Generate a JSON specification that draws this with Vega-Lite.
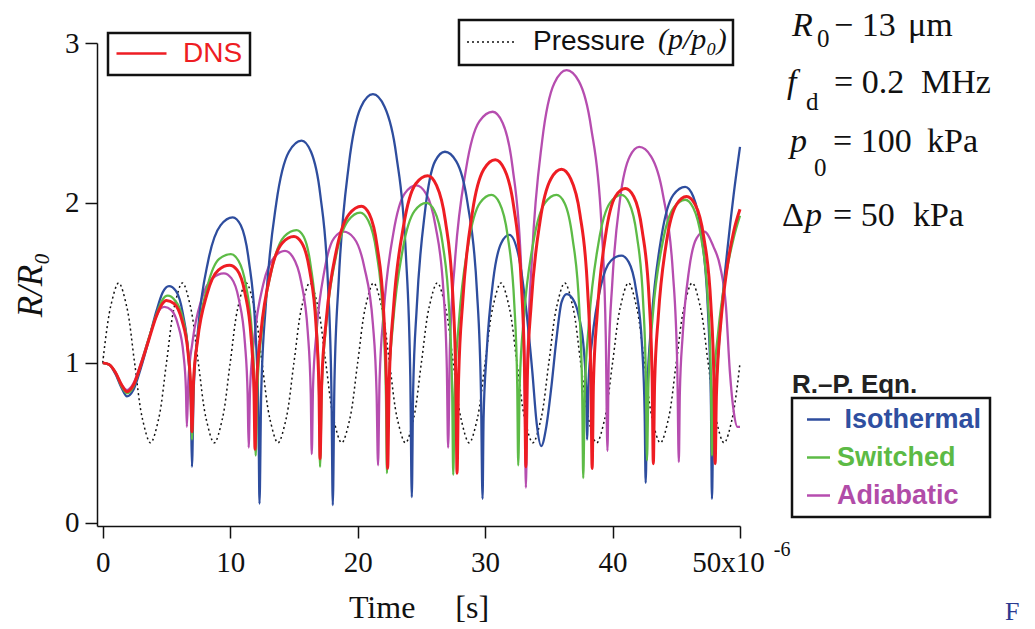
{
  "$schema": "https://vega.github.io/schema/vega-lite/v6.json",
  "width": 643,
  "height": 483,
  "autosize": {"type": "none"},
  "padding": {"left": 97, "top": 43, "right": 295, "bottom": 103},
  "background": "white",
  "config": {"view": {"stroke": null}},
  "datasets": {
    "curves": [
      {"t":0,"r":1,"s":"Pressure"},{"t":0.625,"r":1.354,"s":"Pressure"},{"t":1.25,"r":1.5,"s":"Pressure"},{"t":1.875,"r":1.354,"s":"Pressure"},{"t":2.5,"r":1,"s":"Pressure"},{"t":3.125,"r":0.646,"s":"Pressure"},{"t":3.75,"r":0.5,"s":"Pressure"},{"t":4.375,"r":0.646,"s":"Pressure"},
      {"t":5,"r":1,"s":"Pressure"},{"t":5.625,"r":1.354,"s":"Pressure"},{"t":6.25,"r":1.5,"s":"Pressure"},{"t":6.875,"r":1.354,"s":"Pressure"},{"t":7.5,"r":1,"s":"Pressure"},{"t":8.125,"r":0.646,"s":"Pressure"},{"t":8.75,"r":0.5,"s":"Pressure"},{"t":9.375,"r":0.646,"s":"Pressure"},
      {"t":10,"r":1,"s":"Pressure"},{"t":10.625,"r":1.354,"s":"Pressure"},{"t":11.25,"r":1.5,"s":"Pressure"},{"t":11.875,"r":1.354,"s":"Pressure"},{"t":12.5,"r":1,"s":"Pressure"},{"t":13.125,"r":0.646,"s":"Pressure"},{"t":13.75,"r":0.5,"s":"Pressure"},{"t":14.375,"r":0.646,"s":"Pressure"},
      {"t":15,"r":1,"s":"Pressure"},{"t":15.625,"r":1.354,"s":"Pressure"},{"t":16.25,"r":1.5,"s":"Pressure"},{"t":16.875,"r":1.354,"s":"Pressure"},{"t":17.5,"r":1,"s":"Pressure"},{"t":18.125,"r":0.646,"s":"Pressure"},{"t":18.75,"r":0.5,"s":"Pressure"},{"t":19.375,"r":0.646,"s":"Pressure"},
      {"t":20,"r":1,"s":"Pressure"},{"t":20.625,"r":1.354,"s":"Pressure"},{"t":21.25,"r":1.5,"s":"Pressure"},{"t":21.875,"r":1.354,"s":"Pressure"},{"t":22.5,"r":1,"s":"Pressure"},{"t":23.125,"r":0.646,"s":"Pressure"},{"t":23.75,"r":0.5,"s":"Pressure"},{"t":24.375,"r":0.646,"s":"Pressure"},
      {"t":25,"r":1,"s":"Pressure"},{"t":25.625,"r":1.354,"s":"Pressure"},{"t":26.25,"r":1.5,"s":"Pressure"},{"t":26.875,"r":1.354,"s":"Pressure"},{"t":27.5,"r":1,"s":"Pressure"},{"t":28.125,"r":0.646,"s":"Pressure"},{"t":28.75,"r":0.5,"s":"Pressure"},{"t":29.375,"r":0.646,"s":"Pressure"},
      {"t":30,"r":1,"s":"Pressure"},{"t":30.625,"r":1.354,"s":"Pressure"},{"t":31.25,"r":1.5,"s":"Pressure"},{"t":31.875,"r":1.354,"s":"Pressure"},{"t":32.5,"r":1,"s":"Pressure"},{"t":33.125,"r":0.646,"s":"Pressure"},{"t":33.75,"r":0.5,"s":"Pressure"},{"t":34.375,"r":0.646,"s":"Pressure"},
      {"t":35,"r":1,"s":"Pressure"},{"t":35.625,"r":1.354,"s":"Pressure"},{"t":36.25,"r":1.5,"s":"Pressure"},{"t":36.875,"r":1.354,"s":"Pressure"},{"t":37.5,"r":1,"s":"Pressure"},{"t":38.125,"r":0.646,"s":"Pressure"},{"t":38.75,"r":0.5,"s":"Pressure"},{"t":39.375,"r":0.646,"s":"Pressure"},
      {"t":40,"r":1,"s":"Pressure"},{"t":40.625,"r":1.354,"s":"Pressure"},{"t":41.25,"r":1.5,"s":"Pressure"},{"t":41.875,"r":1.354,"s":"Pressure"},{"t":42.5,"r":1,"s":"Pressure"},{"t":43.125,"r":0.646,"s":"Pressure"},{"t":43.75,"r":0.5,"s":"Pressure"},{"t":44.375,"r":0.646,"s":"Pressure"},
      {"t":45,"r":1,"s":"Pressure"},{"t":45.625,"r":1.354,"s":"Pressure"},{"t":46.25,"r":1.5,"s":"Pressure"},{"t":46.875,"r":1.354,"s":"Pressure"},{"t":47.5,"r":1,"s":"Pressure"},{"t":48.125,"r":0.646,"s":"Pressure"},{"t":48.75,"r":0.5,"s":"Pressure"},{"t":49.375,"r":0.646,"s":"Pressure"},
      {"t":50,"r":1,"s":"Pressure"},

      {"t":0,"r":1.0,"s":"Adiabatic"},{"t":0.5,"r":0.99,"s":"Adiabatic"},{"t":1.0,"r":0.94,"s":"Adiabatic"},{"t":1.5,"r":0.86,"s":"Adiabatic"},{"t":1.9,"r":0.83,"s":"Adiabatic"},{"t":2.4,"r":0.87,"s":"Adiabatic"},{"t":3.0,"r":1.0,"s":"Adiabatic"},{"t":3.6,"r":1.15,"s":"Adiabatic"},{"t":4.2,"r":1.29,"s":"Adiabatic"},{"t":4.55,"r":1.34,"s":"Adiabatic"},{"t":4.85,"r":1.35,"s":"Adiabatic"},{"t":5.38,"r":1.33,"s":"Adiabatic"},{"t":5.9,"r":1.24,"s":"Adiabatic"},{"t":6.34,"r":1.05,"s":"Adiabatic"},{"t":6.53,"r":0.83,"s":"Adiabatic"},{"t":6.6,"r":0.6,"s":"Adiabatic"},
      {"t":6.72,"r":0.89,"s":"Adiabatic"},{"t":7.04,"r":1.13,"s":"Adiabatic"},{"t":7.76,"r":1.4,"s":"Adiabatic"},{"t":8.63,"r":1.53,"s":"Adiabatic"},{"t":9.5,"r":1.56,"s":"Adiabatic"},{"t":10.09,"r":1.53,"s":"Adiabatic"},{"t":10.67,"r":1.4,"s":"Adiabatic"},{"t":11.16,"r":1.12,"s":"Adiabatic"},{"t":11.37,"r":0.8,"s":"Adiabatic"},{"t":11.45,"r":0.47,"s":"Adiabatic"},
      {"t":11.56,"r":0.84,"s":"Adiabatic"},{"t":11.88,"r":1.15,"s":"Adiabatic"},{"t":12.59,"r":1.49,"s":"Adiabatic"},{"t":13.45,"r":1.66,"s":"Adiabatic"},{"t":14.3,"r":1.7,"s":"Adiabatic"},{"t":14.93,"r":1.66,"s":"Adiabatic"},{"t":15.56,"r":1.51,"s":"Adiabatic"},{"t":16.09,"r":1.19,"s":"Adiabatic"},{"t":16.32,"r":0.81,"s":"Adiabatic"},{"t":16.4,"r":0.43,"s":"Adiabatic"},
      {"t":16.5,"r":0.85,"s":"Adiabatic"},{"t":16.78,"r":1.2,"s":"Adiabatic"},{"t":17.4,"r":1.58,"s":"Adiabatic"},{"t":18.15,"r":1.78,"s":"Adiabatic"},{"t":18.9,"r":1.82,"s":"Adiabatic"},{"t":19.71,"r":1.78,"s":"Adiabatic"},{"t":20.52,"r":1.6,"s":"Adiabatic"},{"t":21.2,"r":1.24,"s":"Adiabatic"},{"t":21.49,"r":0.8,"s":"Adiabatic"},{"t":21.6,"r":0.36,"s":"Adiabatic"},
      {"t":21.72,"r":0.89,"s":"Adiabatic"},{"t":22.05,"r":1.32,"s":"Adiabatic"},{"t":22.8,"r":1.81,"s":"Adiabatic"},{"t":23.7,"r":2.06,"s":"Adiabatic"},{"t":24.6,"r":2.11,"s":"Adiabatic"},{"t":25.35,"r":2.06,"s":"Adiabatic"},{"t":26.1,"r":1.86,"s":"Adiabatic"},{"t":26.73,"r":1.45,"s":"Adiabatic"},{"t":27.0,"r":0.96,"s":"Adiabatic"},{"t":27.1,"r":0.47,"s":"Adiabatic"},
      {"t":27.24,"r":1.1,"s":"Adiabatic"},{"t":27.63,"r":1.63,"s":"Adiabatic"},{"t":28.5,"r":2.21,"s":"Adiabatic"},{"t":29.55,"r":2.51,"s":"Adiabatic"},{"t":30.6,"r":2.57,"s":"Adiabatic"},{"t":31.38,"r":2.5,"s":"Adiabatic"},{"t":32.16,"r":2.22,"s":"Adiabatic"},{"t":32.81,"r":1.63,"s":"Adiabatic"},{"t":33.1,"r":0.93,"s":"Adiabatic"},{"t":33.2,"r":0.22,"s":"Adiabatic"},
      {"t":33.33,"r":1.0,"s":"Adiabatic"},{"t":33.68,"r":1.66,"s":"Adiabatic"},{"t":34.48,"r":2.39,"s":"Adiabatic"},{"t":35.44,"r":2.75,"s":"Adiabatic"},{"t":36.4,"r":2.83,"s":"Adiabatic"},{"t":37.36,"r":2.76,"s":"Adiabatic"},{"t":38.32,"r":2.47,"s":"Adiabatic"},{"t":39.12,"r":1.88,"s":"Adiabatic"},{"t":39.47,"r":1.16,"s":"Adiabatic"},{"t":39.6,"r":0.45,"s":"Adiabatic"},
      {"t":39.7,"r":1.02,"s":"Adiabatic"},{"t":39.98,"r":1.5,"s":"Adiabatic"},{"t":40.6,"r":2.03,"s":"Adiabatic"},{"t":41.35,"r":2.29,"s":"Adiabatic"},{"t":42.1,"r":2.35,"s":"Adiabatic"},{"t":43.03,"r":2.29,"s":"Adiabatic"},{"t":43.96,"r":2.05,"s":"Adiabatic"},{"t":44.74,"r":1.56,"s":"Adiabatic"},{"t":45.08,"r":0.97,"s":"Adiabatic"},{"t":45.2,"r":0.38,"s":"Adiabatic"},
      {"t":45.28,"r":0.81,"s":"Adiabatic"},{"t":45.5,"r":1.17,"s":"Adiabatic"},{"t":46.0,"r":1.58,"s":"Adiabatic"},{"t":46.6,"r":1.78,"s":"Adiabatic"},{"t":47.2,"r":1.82,"s":"Adiabatic"},{"t":47.9,"r":1.73,"s":"Adiabatic"},{"t":48.45,"r":1.6,"s":"Adiabatic"},{"t":48.9,"r":1.35,"s":"Adiabatic"},{"t":49.2,"r":0.95,"s":"Adiabatic"},{"t":49.5,"r":0.7,"s":"Adiabatic"},{"t":49.8,"r":0.6,"s":"Adiabatic"},{"t":50,"r":0.6,"s":"Adiabatic"},

      {"t":0,"r":1.0,"s":"Isothermal"},{"t":0.5,"r":0.99,"s":"Isothermal"},{"t":1.0,"r":0.93,"s":"Isothermal"},{"t":1.5,"r":0.84,"s":"Isothermal"},{"t":1.9,"r":0.79,"s":"Isothermal"},{"t":2.4,"r":0.83,"s":"Isothermal"},{"t":3.0,"r":0.97,"s":"Isothermal"},{"t":3.6,"r":1.14,"s":"Isothermal"},{"t":4.2,"r":1.32,"s":"Isothermal"},{"t":4.7,"r":1.44,"s":"Isothermal"},{"t":5.2,"r":1.48,"s":"Isothermal"},{"t":5.74,"r":1.45,"s":"Isothermal"},{"t":6.28,"r":1.31,"s":"Isothermal"},{"t":6.73,"r":1.03,"s":"Isothermal"},{"t":6.93,"r":0.69,"s":"Isothermal"},{"t":7.0,"r":0.35,"s":"Isothermal"},
      {"t":7.13,"r":0.82,"s":"Isothermal"},{"t":7.48,"r":1.21,"s":"Isothermal"},{"t":8.28,"r":1.64,"s":"Isothermal"},{"t":9.24,"r":1.86,"s":"Isothermal"},{"t":10.2,"r":1.91,"s":"Isothermal"},{"t":10.83,"r":1.86,"s":"Isothermal"},{"t":11.46,"r":1.64,"s":"Isothermal"},{"t":11.99,"r":1.19,"s":"Isothermal"},{"t":12.22,"r":0.66,"s":"Isothermal"},{"t":12.3,"r":0.12,"s":"Isothermal"},
      {"t":12.43,"r":0.8,"s":"Isothermal"},{"t":12.8,"r":1.37,"s":"Isothermal"},{"t":13.62,"r":2.0,"s":"Isothermal"},{"t":14.61,"r":2.32,"s":"Isothermal"},{"t":15.6,"r":2.39,"s":"Isothermal"},{"t":16.34,"r":2.32,"s":"Isothermal"},{"t":17.07,"r":2.05,"s":"Isothermal"},{"t":17.68,"r":1.48,"s":"Isothermal"},{"t":17.95,"r":0.79,"s":"Isothermal"},{"t":18.05,"r":0.11,"s":"Isothermal"},
      {"t":18.18,"r":0.88,"s":"Isothermal"},{"t":18.52,"r":1.52,"s":"Isothermal"},{"t":19.31,"r":2.24,"s":"Isothermal"},{"t":20.26,"r":2.6,"s":"Isothermal"},{"t":21.2,"r":2.68,"s":"Isothermal"},{"t":22.12,"r":2.6,"s":"Isothermal"},{"t":23.03,"r":2.3,"s":"Isothermal"},{"t":23.79,"r":1.67,"s":"Isothermal"},{"t":24.13,"r":0.92,"s":"Isothermal"},{"t":24.25,"r":0.16,"s":"Isothermal"},
      {"t":24.35,"r":0.81,"s":"Isothermal"},{"t":24.64,"r":1.35,"s":"Isothermal"},{"t":25.29,"r":1.95,"s":"Isothermal"},{"t":26.07,"r":2.26,"s":"Isothermal"},{"t":26.85,"r":2.32,"s":"Isothermal"},{"t":27.74,"r":2.26,"s":"Isothermal"},{"t":28.62,"r":2.0,"s":"Isothermal"},{"t":29.36,"r":1.45,"s":"Isothermal"},{"t":29.68,"r":0.8,"s":"Isothermal"},{"t":29.8,"r":0.15,"s":"Isothermal"},
      {"t":29.88,"r":0.65,"s":"Isothermal"},{"t":30.12,"r":1.06,"s":"Isothermal"},{"t":30.64,"r":1.52,"s":"Isothermal"},{"t":31.27,"r":1.75,"s":"Isothermal"},{"t":31.9,"r":1.8,"s":"Isothermal"},{"t":32.6,"r":1.68,"s":"Isothermal"},{"t":33.2,"r":1.35,"s":"Isothermal"},{"t":33.7,"r":0.95,"s":"Isothermal"},{"t":34.05,"r":0.62,"s":"Isothermal"},{"t":34.4,"r":0.48,"s":"Isothermal"},
      {"t":34.8,"r":0.6,"s":"Isothermal"},{"t":35.2,"r":0.85,"s":"Isothermal"},{"t":35.6,"r":1.15,"s":"Isothermal"},{"t":36.0,"r":1.38,"s":"Isothermal"},{"t":36.4,"r":1.43,"s":"Isothermal"},{"t":36.88,"r":1.4,"s":"Isothermal"},{"t":37.36,"r":1.29,"s":"Isothermal"},{"t":37.76,"r":1.07,"s":"Isothermal"},{"t":37.94,"r":0.79,"s":"Isothermal"},{"t":38.0,"r":0.52,"s":"Isothermal"},
      {"t":38.11,"r":0.87,"s":"Isothermal"},{"t":38.41,"r":1.15,"s":"Isothermal"},{"t":39.08,"r":1.48,"s":"Isothermal"},{"t":39.89,"r":1.64,"s":"Isothermal"},{"t":40.7,"r":1.67,"s":"Isothermal"},{"t":41.27,"r":1.63,"s":"Isothermal"},{"t":41.84,"r":1.46,"s":"Isothermal"},{"t":42.32,"r":1.1,"s":"Isothermal"},{"t":42.52,"r":0.68,"s":"Isothermal"},{"t":42.6,"r":0.25,"s":"Isothermal"},
      {"t":42.72,"r":0.81,"s":"Isothermal"},{"t":43.07,"r":1.27,"s":"Isothermal"},{"t":43.84,"r":1.79,"s":"Isothermal"},{"t":44.77,"r":2.05,"s":"Isothermal"},{"t":45.7,"r":2.1,"s":"Isothermal"},{"t":46.33,"r":2.04,"s":"Isothermal"},{"t":46.96,"r":1.81,"s":"Isothermal"},{"t":47.49,"r":1.32,"s":"Isothermal"},{"t":47.72,"r":0.74,"s":"Isothermal"},{"t":47.8,"r":0.15,"s":"Isothermal"},
      {"t":47.9,"r":0.6,"s":"Isothermal"},{"t":48.2,"r":0.95,"s":"Isothermal"},{"t":48.55,"r":1.33,"s":"Isothermal"},{"t":49.0,"r":1.7,"s":"Isothermal"},{"t":49.5,"r":2.05,"s":"Isothermal"},{"t":50,"r":2.35,"s":"Isothermal"},

      {"t":0,"r":1.0,"s":"Switched"},{"t":0.5,"r":0.99,"s":"Switched"},{"t":1.0,"r":0.94,"s":"Switched"},{"t":1.5,"r":0.85,"s":"Switched"},{"t":1.9,"r":0.81,"s":"Switched"},{"t":2.4,"r":0.85,"s":"Switched"},{"t":3.0,"r":0.99,"s":"Switched"},{"t":3.6,"r":1.15,"s":"Switched"},{"t":4.2,"r":1.3,"s":"Switched"},{"t":4.65,"r":1.39,"s":"Switched"},{"t":5.1,"r":1.42,"s":"Switched"},{"t":5.67,"r":1.39,"s":"Switched"},{"t":6.24,"r":1.29,"s":"Switched"},{"t":6.72,"r":1.06,"s":"Switched"},{"t":6.92,"r":0.79,"s":"Switched"},{"t":7.0,"r":0.52,"s":"Switched"},
      {"t":7.12,"r":0.87,"s":"Switched"},{"t":7.46,"r":1.16,"s":"Switched"},{"t":8.22,"r":1.48,"s":"Switched"},{"t":9.14,"r":1.65,"s":"Switched"},{"t":10.05,"r":1.68,"s":"Switched"},{"t":10.64,"r":1.64,"s":"Switched"},{"t":11.22,"r":1.49,"s":"Switched"},{"t":11.71,"r":1.18,"s":"Switched"},{"t":11.92,"r":0.8,"s":"Switched"},{"t":12.0,"r":0.42,"s":"Switched"},
      {"t":12.13,"r":0.84,"s":"Switched"},{"t":12.48,"r":1.2,"s":"Switched"},{"t":13.28,"r":1.59,"s":"Switched"},{"t":14.24,"r":1.79,"s":"Switched"},{"t":15.2,"r":1.83,"s":"Switched"},{"t":15.76,"r":1.79,"s":"Switched"},{"t":16.31,"r":1.61,"s":"Switched"},{"t":16.77,"r":1.24,"s":"Switched"},{"t":16.98,"r":0.79,"s":"Switched"},{"t":17.05,"r":0.35,"s":"Switched"},
      {"t":17.18,"r":0.83,"s":"Switched"},{"t":17.52,"r":1.23,"s":"Switched"},{"t":18.31,"r":1.67,"s":"Switched"},{"t":19.26,"r":1.89,"s":"Switched"},{"t":20.2,"r":1.94,"s":"Switched"},{"t":20.83,"r":1.89,"s":"Switched"},{"t":21.46,"r":1.7,"s":"Switched"},{"t":21.99,"r":1.29,"s":"Switched"},{"t":22.22,"r":0.8,"s":"Switched"},{"t":22.3,"r":0.31,"s":"Switched"},
      {"t":22.42,"r":0.82,"s":"Switched"},{"t":22.77,"r":1.24,"s":"Switched"},{"t":23.54,"r":1.71,"s":"Switched"},{"t":24.47,"r":1.95,"s":"Switched"},{"t":25.4,"r":2.0,"s":"Switched"},{"t":26.03,"r":1.95,"s":"Switched"},{"t":26.66,"r":1.75,"s":"Switched"},{"t":27.19,"r":1.32,"s":"Switched"},{"t":27.42,"r":0.81,"s":"Switched"},{"t":27.5,"r":0.3,"s":"Switched"},
      {"t":27.62,"r":0.83,"s":"Switched"},{"t":27.95,"r":1.26,"s":"Switched"},{"t":28.7,"r":1.75,"s":"Switched"},{"t":29.6,"r":2.0,"s":"Switched"},{"t":30.5,"r":2.05,"s":"Switched"},{"t":31.13,"r":2.0,"s":"Switched"},{"t":31.76,"r":1.8,"s":"Switched"},{"t":32.29,"r":1.37,"s":"Switched"},{"t":32.52,"r":0.87,"s":"Switched"},{"t":32.6,"r":0.36,"s":"Switched"},
      {"t":32.72,"r":0.87,"s":"Switched"},{"t":33.05,"r":1.29,"s":"Switched"},{"t":33.8,"r":1.76,"s":"Switched"},{"t":34.7,"r":2.0,"s":"Switched"},{"t":35.6,"r":2.05,"s":"Switched"},{"t":36.23,"r":2.0,"s":"Switched"},{"t":36.86,"r":1.78,"s":"Switched"},{"t":37.39,"r":1.34,"s":"Switched"},{"t":37.62,"r":0.81,"s":"Switched"},{"t":37.7,"r":0.28,"s":"Switched"},
      {"t":37.82,"r":0.81,"s":"Switched"},{"t":38.15,"r":1.25,"s":"Switched"},{"t":38.9,"r":1.75,"s":"Switched"},{"t":39.8,"r":2.0,"s":"Switched"},{"t":40.7,"r":2.05,"s":"Switched"},{"t":41.3,"r":2.0,"s":"Switched"},{"t":41.9,"r":1.8,"s":"Switched"},{"t":42.4,"r":1.38,"s":"Switched"},{"t":42.62,"r":0.89,"s":"Switched"},{"t":42.7,"r":0.39,"s":"Switched"},
      {"t":42.82,"r":0.88,"s":"Switched"},{"t":43.15,"r":1.29,"s":"Switched"},{"t":43.9,"r":1.74,"s":"Switched"},{"t":44.8,"r":1.97,"s":"Switched"},{"t":45.7,"r":2.02,"s":"Switched"},{"t":46.33,"r":1.97,"s":"Switched"},{"t":46.96,"r":1.78,"s":"Switched"},{"t":47.49,"r":1.38,"s":"Switched"},{"t":47.72,"r":0.9,"s":"Switched"},{"t":47.8,"r":0.42,"s":"Switched"},
      {"t":47.9,"r":0.8,"s":"Switched"},{"t":48.3,"r":1.2,"s":"Switched"},{"t":48.9,"r":1.55,"s":"Switched"},{"t":49.5,"r":1.78,"s":"Switched"},{"t":50,"r":1.92,"s":"Switched"},

      {"t":0,"r":1.0,"s":"DNS"},{"t":0.5,"r":0.99,"s":"DNS"},{"t":1.0,"r":0.94,"s":"DNS"},{"t":1.5,"r":0.86,"s":"DNS"},{"t":1.9,"r":0.82,"s":"DNS"},{"t":2.4,"r":0.86,"s":"DNS"},{"t":3.0,"r":0.99,"s":"DNS"},{"t":3.6,"r":1.14,"s":"DNS"},{"t":4.2,"r":1.29,"s":"DNS"},{"t":4.6,"r":1.36,"s":"DNS"},{"t":5.0,"r":1.39,"s":"DNS"},{"t":5.6,"r":1.37,"s":"DNS"},{"t":6.2,"r":1.27,"s":"DNS"},{"t":6.7,"r":1.06,"s":"DNS"},{"t":6.92,"r":0.82,"s":"DNS"},{"t":7.0,"r":0.57,"s":"DNS"},
      {"t":7.12,"r":0.88,"s":"DNS"},{"t":7.44,"r":1.14,"s":"DNS"},{"t":8.18,"r":1.43,"s":"DNS"},{"t":9.07,"r":1.58,"s":"DNS"},{"t":9.95,"r":1.61,"s":"DNS"},{"t":10.55,"r":1.58,"s":"DNS"},{"t":11.15,"r":1.44,"s":"DNS"},{"t":11.65,"r":1.15,"s":"DNS"},{"t":11.87,"r":0.81,"s":"DNS"},{"t":11.95,"r":0.46,"s":"DNS"},
      {"t":12.07,"r":0.86,"s":"DNS"},{"t":12.41,"r":1.19,"s":"DNS"},{"t":13.17,"r":1.56,"s":"DNS"},{"t":14.09,"r":1.75,"s":"DNS"},{"t":15.0,"r":1.79,"s":"DNS"},{"t":15.62,"r":1.75,"s":"DNS"},{"t":16.23,"r":1.58,"s":"DNS"},{"t":16.74,"r":1.23,"s":"DNS"},{"t":16.97,"r":0.82,"s":"DNS"},{"t":17.05,"r":0.4,"s":"DNS"},
      {"t":17.18,"r":0.87,"s":"DNS"},{"t":17.54,"r":1.27,"s":"DNS"},{"t":18.35,"r":1.71,"s":"DNS"},{"t":19.33,"r":1.93,"s":"DNS"},{"t":20.3,"r":1.98,"s":"DNS"},{"t":20.92,"r":1.93,"s":"DNS"},{"t":21.53,"r":1.73,"s":"DNS"},{"t":22.04,"r":1.32,"s":"DNS"},{"t":22.27,"r":0.83,"s":"DNS"},{"t":22.35,"r":0.34,"s":"DNS"},
      {"t":22.48,"r":0.89,"s":"DNS"},{"t":22.82,"r":1.35,"s":"DNS"},{"t":23.61,"r":1.86,"s":"DNS"},{"t":24.56,"r":2.12,"s":"DNS"},{"t":25.5,"r":2.17,"s":"DNS"},{"t":26.19,"r":2.11,"s":"DNS"},{"t":26.88,"r":1.89,"s":"DNS"},{"t":27.46,"r":1.43,"s":"DNS"},{"t":27.71,"r":0.87,"s":"DNS"},{"t":27.8,"r":0.31,"s":"DNS"},
      {"t":27.92,"r":0.9,"s":"DNS"},{"t":28.25,"r":1.39,"s":"DNS"},{"t":29.0,"r":1.94,"s":"DNS"},{"t":29.9,"r":2.21,"s":"DNS"},{"t":30.8,"r":2.27,"s":"DNS"},{"t":31.52,"r":2.21,"s":"DNS"},{"t":32.24,"r":1.98,"s":"DNS"},{"t":32.84,"r":1.5,"s":"DNS"},{"t":33.1,"r":0.93,"s":"DNS"},{"t":33.2,"r":0.35,"s":"DNS"},
      {"t":33.31,"r":0.91,"s":"DNS"},{"t":33.62,"r":1.37,"s":"DNS"},{"t":34.32,"r":1.89,"s":"DNS"},{"t":35.16,"r":2.15,"s":"DNS"},{"t":36.0,"r":2.21,"s":"DNS"},{"t":36.72,"r":2.15,"s":"DNS"},{"t":37.44,"r":1.93,"s":"DNS"},{"t":38.04,"r":1.46,"s":"DNS"},{"t":38.3,"r":0.9,"s":"DNS"},{"t":38.4,"r":0.34,"s":"DNS"},
      {"t":38.5,"r":0.87,"s":"DNS"},{"t":38.79,"r":1.3,"s":"DNS"},{"t":39.44,"r":1.79,"s":"DNS"},{"t":40.22,"r":2.04,"s":"DNS"},{"t":41.0,"r":2.09,"s":"DNS"},{"t":41.66,"r":2.04,"s":"DNS"},{"t":42.32,"r":1.83,"s":"DNS"},{"t":42.87,"r":1.4,"s":"DNS"},{"t":43.11,"r":0.89,"s":"DNS"},{"t":43.2,"r":0.37,"s":"DNS"},
      {"t":43.3,"r":0.87,"s":"DNS"},{"t":43.59,"r":1.29,"s":"DNS"},{"t":44.24,"r":1.76,"s":"DNS"},{"t":45.02,"r":1.99,"s":"DNS"},{"t":45.8,"r":2.04,"s":"DNS"},{"t":46.48,"r":1.99,"s":"DNS"},{"t":47.15,"r":1.79,"s":"DNS"},{"t":47.71,"r":1.37,"s":"DNS"},{"t":47.96,"r":0.87,"s":"DNS"},{"t":48.05,"r":0.37,"s":"DNS"},
      {"t":48.15,"r":0.8,"s":"DNS"},{"t":48.55,"r":1.3,"s":"DNS"},{"t":49.0,"r":1.6,"s":"DNS"},{"t":49.5,"r":1.82,"s":"DNS"},{"t":50,"r":1.96,"s":"DNS"}
    ]
  },
  "layer": [
    {
      "data": {"name": "curves"},
      "transform": [{"filter": "datum.s == 'Pressure'"}],
      "mark": {"type": "line", "interpolate": "catmull-rom", "strokeWidth": 1.5, "strokeDash": [2, 3]},
      "encoding": {
        "x": {
          "field": "t", "type": "quantitative",
          "scale": {"domain": [-0.45, 50], "nice": false, "zero": false},
          "axis": {
            "values": [0, 10, 20, 30, 40, 50],
            "format": "d",
            "title": "Time\u00a0\u00a0\u00a0\u00a0\u00a0[s]",
            "labelExpr": "datum.value == 50 ? '50x10' : datum.label",
            "labelOffset": {"condition": {"test": "datum.value == 50", "value": -12}, "value": 0},
            "labelFlush": false, "labelOverlap": false,
            "labelFont": "Liberation Serif", "labelFontSize": 29, "labelColor": "#111", "labelPadding": 10,
            "tickSize": 12, "tickWidth": 1.5, "tickColor": "#111",
            "domainColor": "#111", "domainWidth": 1.5, "grid": false,
            "titleFont": "Liberation Serif", "titleFontSize": 32, "titleFontWeight": "normal", "titleColor": "#111", "titlePadding": 15
          }
        },
        "y": {
          "field": "r", "type": "quantitative",
          "scale": {"domain": [-0.02, 3], "nice": false, "zero": false},
          "axis": {
            "values": [0, 1, 2, 3],
            "format": "d",
            "title": "R/R₀",
            "labelFlush": false, "labelOverlap": false,
            "labelFont": "Liberation Serif", "labelFontSize": 29, "labelColor": "#111", "labelPadding": 6,
            "tickSize": 12, "tickWidth": 1.5, "tickColor": "#111",
            "domainColor": "#111", "domainWidth": 1.5, "grid": false,
            "titleFont": "Liberation Serif", "titleFontSize": 35, "titleFontStyle": "italic", "titleFontWeight": "normal", "titleColor": "#111", "titlePadding": 16
          }
        },
        "color": {
          "field": "s", "type": "nominal",
          "scale": {"domain": ["Pressure"], "range": ["#111111"]},
          "legend": {
            "orient": "none", "legendX": 362, "legendY": -23, "title": null,
            "symbolType": "stroke", "symbolSize": 2500, "symbolStrokeWidth": 1.5, "symbolDash": [2, 3],
            "labelFont": "Liberation Sans", "labelFontSize": 28, "labelColor": "#111", "labelOffset": 15, "labelLimit": 400,
            "clipHeight": 30, "padding": 7
          }
        }
      }
    },
    {
      "data": {"name": "curves"},
      "transform": [{"filter": "datum.s == 'Isothermal' || datum.s == 'Switched' || datum.s == 'Adiabatic'"}],
      "mark": {"type": "line", "interpolate": "monotone", "strokeWidth": 2.3},
      "encoding": {
        "x": {"field": "t", "type": "quantitative", "scale": {"domain": [-0.45, 50], "nice": false, "zero": false}},
        "y": {"field": "r", "type": "quantitative", "scale": {"domain": [-0.02, 3], "nice": false, "zero": false}},
        "color": {
          "field": "s", "type": "nominal",
          "scale": {"domain": ["Isothermal", "Switched", "Adiabatic"], "range": ["#2e4d9e", "#5dbb46", "#b64daf"]},
          "legend": {
            "orient": "none", "legendX": 695, "legendY": 355, "title": null, "direction": "vertical",
            "symbolType": "stroke", "symbolSize": 529, "symbolStrokeWidth": 2.5, "symbolOffset": 5,
            "labelFont": "Liberation Sans", "labelFontSize": 27, "labelFontWeight": "bold", "labelOffset": 5, "labelLimit": 400,
            "labelExpr": "datum.value == 'Isothermal' ? '\u200b\u00a0Isothermal' : datum.label",
            "rowPadding": 10, "padding": 8, "strokeColor": "#111", "fillColor": "white",
            "encode": {
              "labels": {"update": {"fill": {"signal": "datum.value == 'Isothermal' ? '#2f4fa0' : datum.value == 'Switched' ? '#5cba45' : '#b14ca8'"}}},
              "legend": {"update": {"strokeWidth": {"value": 2.5}}}
            }
          }
        }
      }
    },
    {
      "data": {"name": "curves"},
      "transform": [{"filter": "datum.s == 'DNS'"}],
      "mark": {"type": "line", "interpolate": "monotone", "strokeWidth": 3},
      "encoding": {
        "x": {"field": "t", "type": "quantitative", "scale": {"domain": [-0.45, 50], "nice": false, "zero": false}},
        "y": {"field": "r", "type": "quantitative", "scale": {"domain": [-0.02, 3], "nice": false, "zero": false}},
        "color": {
          "field": "s", "type": "nominal",
          "scale": {"domain": ["DNS"], "range": ["#ee1d23"]},
          "legend": {
            "orient": "none", "legendX": 11, "legendY": -10, "title": null,
            "symbolType": "stroke", "symbolSize": 2500, "symbolStrokeWidth": 2.5,
            "labelFont": "Liberation Sans", "labelFontSize": 28, "labelColor": "#ee1d23", "labelOffset": 15,
            "clipHeight": 27, "padding": 7, "strokeColor": "#111", "fillColor": "white",
            "encode": {"legend": {"update": {"strokeWidth": {"value": 2.5}}}}
          }
        }
      }
    },
    {"data": {"values": [{"k": 1}]}, "mark": {"type": "rect", "fill": null, "stroke": "#111", "strokeWidth": 2.5}, "encoding": {"x": {"datum": 27.95}, "x2": {"datum": 49.45}, "y": {"datum": 3.1438}, "y2": {"datum": 2.8624}}},
    {"data": {"values": [{"k": 1}]}, "mark": {"type": "text", "text": "(p/p₀)", "font": "Liberation Serif", "fontSize": 30, "fontStyle": "italic", "align": "left", "baseline": "alphabetic", "color": "#111"}, "encoding": {"x": {"datum": 43.57}, "y": {"datum": 2.9625}}},

    {"data": {"values": [{"k": 1}]}, "mark": {"type": "text", "text": "-6", "font": "Liberation Serif", "fontSize": 20, "align": "left", "baseline": "alphabetic", "color": "#111"}, "encoding": {"x": {"datum": 52.65}, "y": {"datum": -0.2076}}},

    {"data": {"values": [{"k": 1}]}, "mark": {"type": "text", "text": "R", "font": "Liberation Serif", "fontSize": 34, "fontStyle": "italic", "align": "left", "baseline": "alphabetic", "color": "#111"}, "encoding": {"x": {"datum": 54.08}, "y": {"datum": 3.0438}}},
    {"data": {"values": [{"k": 1}]}, "mark": {"type": "text", "text": "0", "font": "Liberation Serif", "fontSize": 25, "align": "left", "baseline": "alphabetic", "color": "#111"}, "encoding": {"x": {"datum": 56.04}, "y": {"datum": 2.975}}},
    {"data": {"values": [{"k": 1}]}, "mark": {"type": "text", "text": "− 13", "font": "Liberation Serif", "fontSize": 34, "align": "left", "baseline": "alphabetic", "color": "#111"}, "encoding": {"x": {"datum": 57.38}, "y": {"datum": 3.0438}}},
    {"data": {"values": [{"k": 1}]}, "mark": {"type": "text", "text": "μm", "font": "Liberation Serif", "fontSize": 34, "align": "left", "baseline": "alphabetic", "color": "#111"}, "encoding": {"x": {"datum": 63.18}, "y": {"datum": 3.0438}}},

    {"data": {"values": [{"k": 1}]}, "mark": {"type": "text", "text": "f", "font": "Liberation Serif", "fontSize": 34, "fontStyle": "italic", "align": "left", "baseline": "alphabetic", "color": "#111"}, "encoding": {"x": {"datum": 53.69}, "y": {"datum": 2.6874}}},
    {"data": {"values": [{"k": 1}]}, "mark": {"type": "text", "text": "d", "font": "Liberation Serif", "fontSize": 25, "align": "left", "baseline": "alphabetic", "color": "#111"}, "encoding": {"x": {"datum": 55.18}, "y": {"datum": 2.5811}}},
    {"data": {"values": [{"k": 1}]}, "mark": {"type": "text", "text": "= 0.2", "font": "Liberation Serif", "fontSize": 34, "align": "left", "baseline": "alphabetic", "color": "#111"}, "encoding": {"x": {"datum": 57.38}, "y": {"datum": 2.6874}}},
    {"data": {"values": [{"k": 1}]}, "mark": {"type": "text", "text": "MHz", "font": "Liberation Serif", "fontSize": 34, "align": "left", "baseline": "alphabetic", "color": "#111"}, "encoding": {"x": {"datum": 64.2}, "y": {"datum": 2.6874}}},

    {"data": {"values": [{"k": 1}]}, "mark": {"type": "text", "text": "p", "font": "Liberation Serif", "fontSize": 34, "fontStyle": "italic", "align": "left", "baseline": "alphabetic", "color": "#111"}, "encoding": {"x": {"datum": 53.92}, "y": {"datum": 2.3185}}},
    {"data": {"values": [{"k": 1}]}, "mark": {"type": "text", "text": "0", "font": "Liberation Serif", "fontSize": 25, "align": "left", "baseline": "alphabetic", "color": "#111"}, "encoding": {"x": {"datum": 55.8}, "y": {"datum": 2.1684}}},
    {"data": {"values": [{"k": 1}]}, "mark": {"type": "text", "text": "= 100", "font": "Liberation Serif", "fontSize": 34, "align": "left", "baseline": "alphabetic", "color": "#111"}, "encoding": {"x": {"datum": 57.3}, "y": {"datum": 2.3185}}},
    {"data": {"values": [{"k": 1}]}, "mark": {"type": "text", "text": "kPa", "font": "Liberation Serif", "fontSize": 34, "align": "left", "baseline": "alphabetic", "color": "#111"}, "encoding": {"x": {"datum": 64.67}, "y": {"datum": 2.3185}}},

    {"data": {"values": [{"k": 1}]}, "mark": {"type": "text", "text": "Δ", "font": "Liberation Serif", "fontSize": 34, "align": "left", "baseline": "alphabetic", "color": "#111"}, "encoding": {"x": {"datum": 53.3}, "y": {"datum": 1.8558}}},
    {"data": {"values": [{"k": 1}]}, "mark": {"type": "text", "text": "p", "font": "Liberation Serif", "fontSize": 34, "fontStyle": "italic", "align": "left", "baseline": "alphabetic", "color": "#111"}, "encoding": {"x": {"datum": 55.1}, "y": {"datum": 1.8558}}},
    {"data": {"values": [{"k": 1}]}, "mark": {"type": "text", "text": "= 50", "font": "Liberation Serif", "fontSize": 34, "align": "left", "baseline": "alphabetic", "color": "#111"}, "encoding": {"x": {"datum": 57.3}, "y": {"datum": 1.8558}}},
    {"data": {"values": [{"k": 1}]}, "mark": {"type": "text", "text": "kPa", "font": "Liberation Serif", "fontSize": 34, "align": "left", "baseline": "alphabetic", "color": "#111"}, "encoding": {"x": {"datum": 63.57}, "y": {"datum": 1.8558}}},

    {"data": {"values": [{"k": 1}]}, "mark": {"type": "text", "text": "R.–P. Eqn.", "font": "Liberation Sans", "fontSize": 26, "fontWeight": "bold", "align": "left", "baseline": "alphabetic", "color": "#222"}, "encoding": {"x": {"datum": 54.08}, "y": {"datum": 0.8116}}},
    {"data": {"values": [{"k": 1}]}, "mark": {"type": "text", "text": "F", "font": "Liberation Serif", "fontSize": 26, "align": "left", "baseline": "alphabetic", "color": "#2b3990"}, "encoding": {"x": {"datum": 70.79}, "y": {"datum": -0.6077}}}
  ],
  "resolve": {"scale": {"color": "independent"}}
}
